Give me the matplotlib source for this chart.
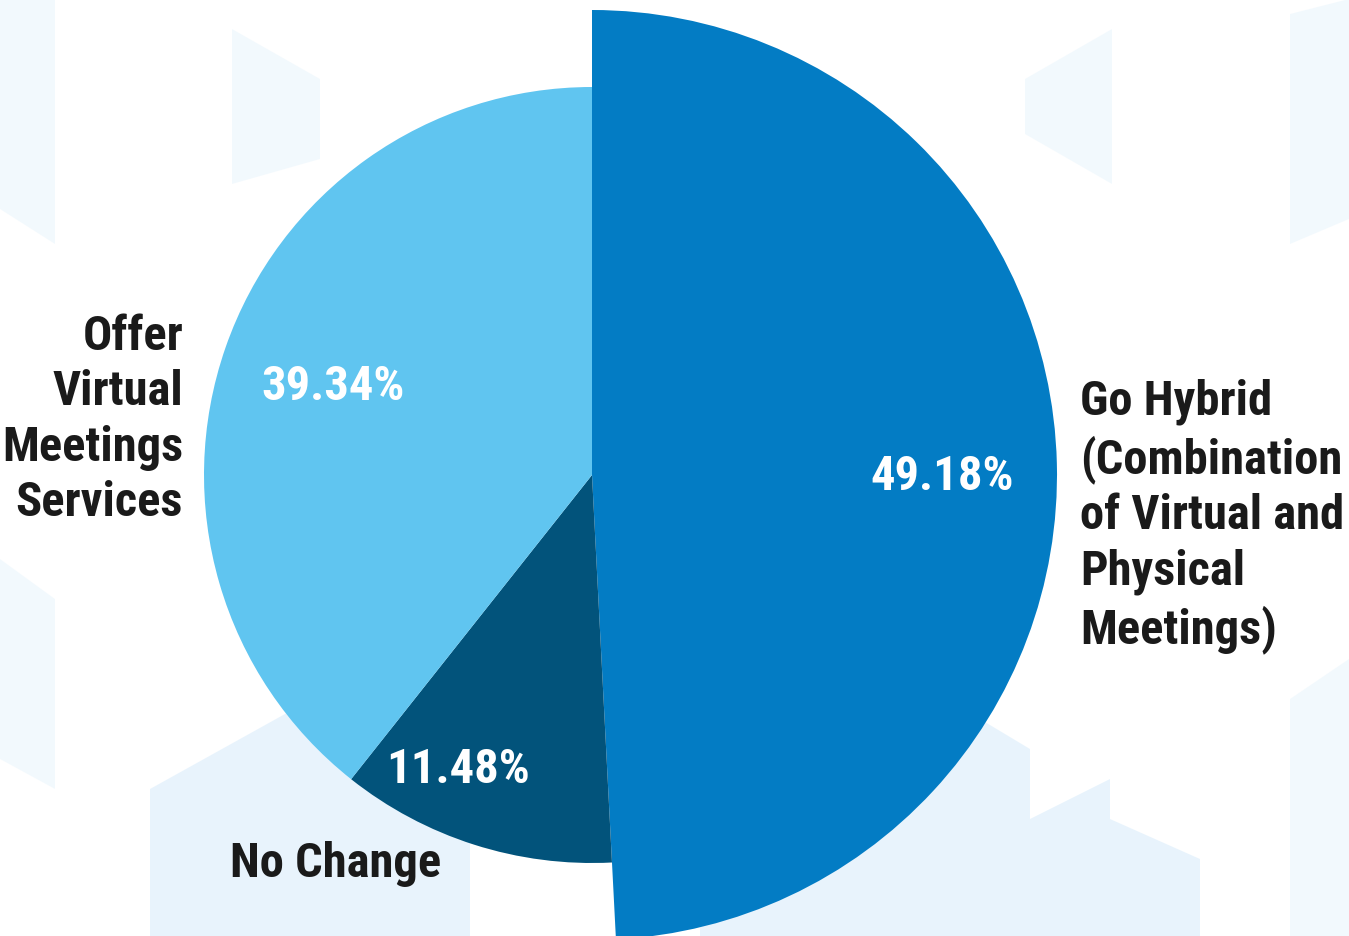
import matplotlib.pyplot as plt
from matplotlib.patches import Polygon

# ---- data ----
categories = ["Go Hybrid\n(Combination\nof Virtual and\nPhysical\nMeetings)",
              "No Change",
              "Offer\nVirtual\nMeetings\nServices"]
shares = [49.18, 11.48, 39.34]
colors = ["#037cc4", "#02537b", "#60c5f0"]

W, H = 1349, 937
fig = plt.figure(figsize=(W / 100, H / 100), dpi=100)
ax = fig.add_axes([0, 0, 1, 1])

# faint triangle pattern in the background (stronger towards the bottom)
bg_faint = [
    [(0, 0), (55, 0), (55, 245), (0, 210)],
    [(232, 30), (320, 80), (320, 160), (232, 185)],
    [(1025, 80), (1112, 30), (1112, 185), (1025, 135)],
    [(1290, 15), (1349, 0), (1349, 220), (1290, 245)],
    [(0, 560), (55, 600), (55, 790), (0, 760)],
    [(1290, 700), (1349, 660), (1349, 937), (1290, 937)],
]
bg_strong = [
    [(150, 790), (330, 690), (330, 937), (150, 937)],
    [(330, 690), (470, 780), (470, 937), (330, 937)],
    [(700, 760), (880, 660), (880, 937), (700, 937)],
    [(880, 660), (1030, 750), (1030, 937), (880, 937)],
    [(1030, 820), (1110, 780), (1110, 937), (1030, 937)],
    [(1110, 820), (1200, 860), (1200, 937), (1110, 937)],
]
for pts in bg_faint:
    ax.add_patch(Polygon([(x, H - y) for x, y in pts], closed=True,
                         facecolor="#e4f3fc", edgecolor="none", alpha=0.45, zorder=0))
for pts in bg_strong:
    ax.add_patch(Polygon([(x, H - y) for x, y in pts], closed=True,
                         facecolor="#cde6fa", edgecolor="none", alpha=0.45, zorder=0))

# ---- pie ----
cx, cy = 592, H - 476
wedges, _ = ax.pie(shares, colors=colors, startangle=90, counterclock=False,
                   radius=388, center=(cx, cy),
                   wedgeprops=dict(linewidth=0))
# the hybrid slice is pulled out by drawing it bigger
wedges[0].set_radius(465)
for w in wedges:
    w.set_zorder(2)

ax.set_xlim(0, W)
ax.set_ylim(0, H)
ax.set_aspect("equal")
ax.axis("off")

font = ["Roboto Condensed", "DejaVu Sans"]

# percent labels inside slices
pct_pos = [(942, 477), (458, 770), (333, 387)]
for v, (x, y) in zip(shares, pct_pos):
    ax.text(x, H - y, f"{v:.2f}%", color="white", fontsize=35, fontweight="bold",
            family=font, ha="center", va="center", zorder=3)

# category labels
ax.text(1080, H - 516, categories[0], color="#1a1a1a", fontsize=35, fontweight="bold",
        family=font, ha="left", va="center", linespacing=1.26, zorder=3)
ax.text(230, H - 864, categories[1], color="#1a1a1a", fontsize=35, fontweight="bold",
        family=font, ha="left", va="center", zorder=3)
ax.text(183, H - 420, categories[2], color="#1a1a1a", fontsize=35, fontweight="bold",
        family=font, ha="right", va="center", linespacing=1.26, zorder=3)

fig.savefig("out.png", dpi=100, facecolor="white")
